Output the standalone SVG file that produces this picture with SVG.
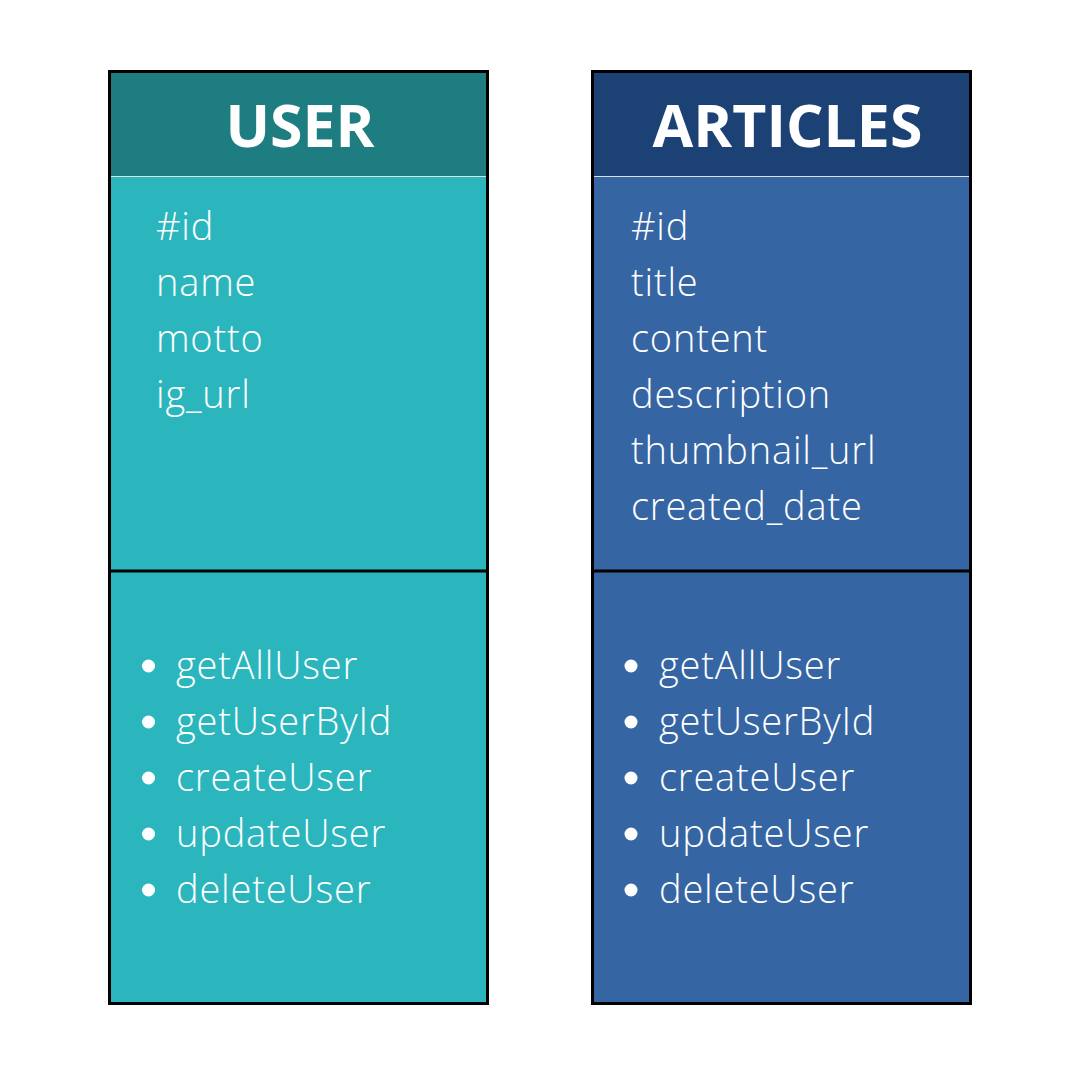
<svg xmlns="http://www.w3.org/2000/svg" width="1080" height="1080" viewBox="0 0 1080 1080">
<style>
.frame{fill:none;stroke:#000;stroke-width:3}
.div{stroke:#000;stroke-width:3}
.sep{stroke:#d8e4e8;stroke-width:1}
.title{font-family:"Open Sans","Liberation Sans",sans-serif;font-weight:700;font-size:59px;fill:#fff;text-anchor:middle}
.attr,.meth{font-family:"Open Sans","Liberation Sans",sans-serif;font-weight:300;font-size:38px;letter-spacing:0.8px;fill:#fff}
.dot{fill:#fff}
</style>
<rect width="1080" height="1080" fill="#fff"/>
<g id="user">
<rect x="109.5" y="71.5" width="378" height="932" fill="#2BB6BE"/>
<rect x="109.5" y="71.5" width="378" height="104.5" fill="#1E7D80"/>
<line class="sep" x1="111" y1="176.5" x2="486" y2="176.5"/>
<line class="div" x1="109.5" y1="571" x2="487.5" y2="571"/>
<rect class="frame" x="109.5" y="71.5" width="378" height="932"/>
<text class="title" x="300" y="147">USER</text>
<text class="attr" x="156" y="240">#id</text>
<text class="attr" x="156" y="296">name</text>
<text class="attr" x="156" y="352">motto</text>
<text class="attr" x="156" y="408">ig_url</text>
<circle class="dot" cx="148.5" cy="666" r="6.5"/>
<circle class="dot" cx="148.5" cy="722" r="6.5"/>
<circle class="dot" cx="148.5" cy="778" r="6.5"/>
<circle class="dot" cx="148.5" cy="834" r="6.5"/>
<circle class="dot" cx="148.5" cy="890" r="6.5"/>
<text class="meth" x="176" y="679">getAllUser</text>
<text class="meth" x="176" y="735">getUserById</text>
<text class="meth" x="176" y="791">createUser</text>
<text class="meth" x="176" y="847">updateUser</text>
<text class="meth" x="176" y="903">deleteUser</text>
</g>
<g id="articles">
<rect x="592.5" y="71.5" width="378" height="932" fill="#3665A3"/>
<rect x="592.5" y="71.5" width="378" height="104.5" fill="#1C4175"/>
<line class="sep" x1="594" y1="176.5" x2="969" y2="176.5"/>
<line class="div" x1="592.5" y1="571" x2="970.5" y2="571"/>
<rect class="frame" x="592.5" y="71.5" width="378" height="932"/>
<text class="title" x="787.5" y="147">ARTICLES</text>
<text class="attr" x="631" y="240">#id</text>
<text class="attr" x="631" y="296">title</text>
<text class="attr" x="631" y="352">content</text>
<text class="attr" x="631" y="408">description</text>
<text class="attr" x="631" y="464">thumbnail_url</text>
<text class="attr" x="631" y="520">created_date</text>
<circle class="dot" cx="631" cy="666" r="6.5"/>
<circle class="dot" cx="631" cy="722" r="6.5"/>
<circle class="dot" cx="631" cy="778" r="6.5"/>
<circle class="dot" cx="631" cy="834" r="6.5"/>
<circle class="dot" cx="631" cy="890" r="6.5"/>
<text class="meth" x="659" y="679">getAllUser</text>
<text class="meth" x="659" y="735">getUserById</text>
<text class="meth" x="659" y="791">createUser</text>
<text class="meth" x="659" y="847">updateUser</text>
<text class="meth" x="659" y="903">deleteUser</text>
</g>
<g id="connectors"/>
</svg>
